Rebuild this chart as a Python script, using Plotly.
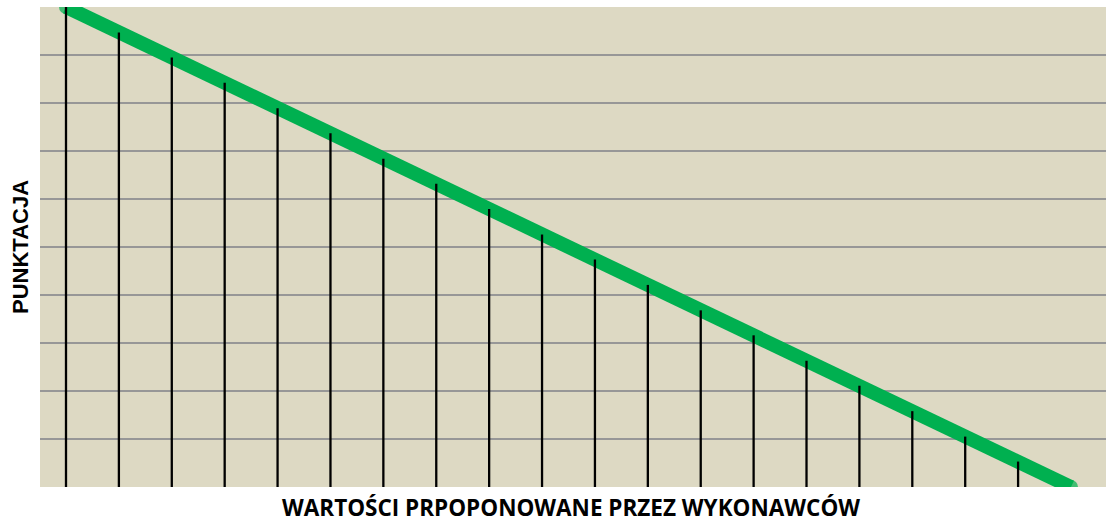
import plotly.graph_objects as go

# Data
positions = list(range(1, 21))
scores = [100, 94.7, 89.5, 84.2, 78.9, 73.7, 68.4, 63.2, 57.9, 52.6,
          47.4, 42.1, 36.8, 31.6, 26.3, 21.1, 15.8, 10.5, 5.3, 0]
x_title = "WARTOŚCI PRPOPONOWANE PRZEZ WYKONAWCÓW"
y_title = "PUNKTACJA"

fig = go.Figure()

# thick green line with round-ish ends
end_sizes = [14 if i in (0, len(scores) - 1) else 0 for i in range(len(scores))]
fig.add_trace(go.Scatter(
    x=positions, y=scores, mode="lines+markers",
    line=dict(color="#00B050", width=14),
    marker=dict(color="#00B050", size=end_sizes, line=dict(width=0)),
    hoverinfo="skip", showlegend=False,
))

# drop lines from each point down to the axis
dx, dy = [], []
for xv, yv in zip(positions, scores):
    dx += [xv, xv, None]
    dy += [yv, 0, None]
fig.add_trace(go.Scatter(
    x=dx, y=dy, mode="lines",
    line=dict(color="black", width=2.3),
    hoverinfo="skip", showlegend=False,
))

fig.update_layout(
    width=1106, height=523,
    margin=dict(l=40, r=0, t=7, b=36),
    paper_bgcolor="white",
    plot_bgcolor="#DDD9C3",
    showlegend=False,
    xaxis=dict(range=[0.5085, 20.662], showgrid=False, zeroline=False,
               showticklabels=False, ticks="", showline=False),
    yaxis=dict(range=[0, 100], dtick=10, showgrid=True, gridcolor="#979797",
               gridwidth=2, zeroline=False, showticklabels=False, ticks="",
               showline=False),
    annotations=[
        dict(text="<b>" + x_title + "</b>", xref="paper", yref="paper",
             x=(571 - 40) / 1066, y=0, yshift=-20.5, xanchor="center", yanchor="middle",
             borderpad=0, showarrow=False,
             font=dict(family="Open Sans", size=22.5, color="black")),
        dict(text="<b>" + y_title + "</b>", xref="paper", yref="paper",
             x=0, xshift=-20, y=0.5, xanchor="center", yanchor="middle",
             textangle=-90, showarrow=False,
             font=dict(family="Liberation Sans", size=22, color="black")),
    ],
)

fig.write_html("out.html", config={"displayModeBar": False},
               post_script="document.body.style.margin='0';")
